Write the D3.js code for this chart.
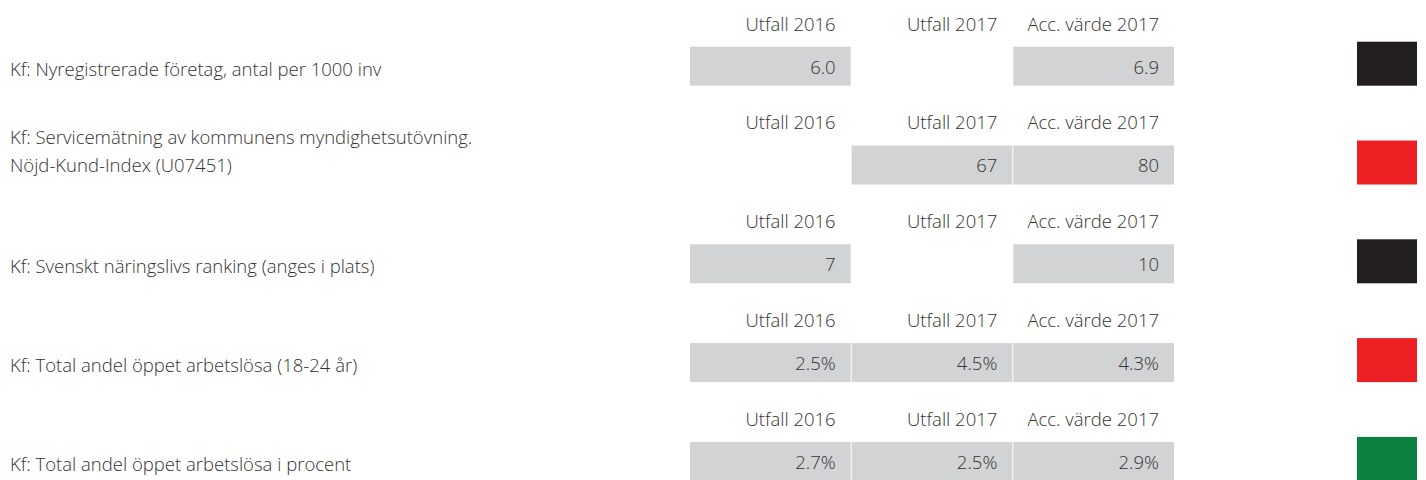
<!DOCTYPE html>
<html>
<head>
	<meta charset="utf-8">
	<script src="https://cdnjs.cloudflare.com/ajax/libs/d3/7.8.5/d3.min.js"></script>
	<style>
		body { margin: 0; background: #fff; }
		text { font-family: "Open Sans", sans-serif; font-weight: 300; fill: #333; }
	</style>
</head>
<body>
	<svg width="1426" height="480"></svg>
	<script>
		//indicator labels (one entry per line)
		let indicators = [
			["Kf: Nyregistrerade företag, antal per 1000 inv"],
			["Kf: Servicemätning av kommunens myndighetsutövning.", "Nöjd-Kund-Index (U07451)"],
			["Kf: Svenskt näringslivs ranking (anges i plats)"],
			["Kf: Total andel öppet arbetslösa (18-24 år)"],
			["Kf: Total andel öppet arbetslösa i procent"]
		];
		let columns = ["Utfall 2016", "Utfall 2017", "Acc. värde 2017"];
		let utfall2016 = ["6.0", null, "7", "2.5%", "2.7%"];
		let utfall2017 = [null, "67", null, "4.5%", "2.5%"];
		let accVarde2017 = ["6.9", "80", "10", "4.3%", "2.9%"];
		let status = ["black", "red", "black", "red", "green"];

		let svg = d3.select("svg");

		//scales
		let x = d3.scaleBand().domain(columns).range([690, 1174]).paddingInner(0.006),
			y = d3.scaleBand().domain(d3.range(indicators.length)).range([-11, 483]),
			z = d3.scaleOrdinal().domain(["black", "red", "green"]).range(["#231f20", "#ed2024", "#0b8140"]);

		let cellTop = 57.7, cellH = 39, fs = 18.5;

		let rows = indicators.map(function(d, i) {
			return {label: d, status: status[i], values: [utfall2016[i], utfall2017[i], accVarde2017[i]]};
		});

		let row = svg.selectAll("g.row")
			.data(rows)
			.enter()
			.append("g")
			.attr("class", "row")
			.attr("transform", function(d, i) { return "translate(0," + y(i) + ")"; });

		//left labels, last line sits on the cell
		row.append("text")
			.attr("x", 10)
			.attr("font-size", fs)
			.selectAll("tspan")
			.data(function(d) { return d.label; })
			.enter()
			.append("tspan")
			.attr("x", 10)
			.attr("y", function(d, i, n) { return cellTop + (n.length > 1 ? 27 : 29) - (n.length - 1 - i) * 28; })
			.text(function(d) { return d; });

		//column headers
		row.selectAll("text.head")
			.data(columns)
			.enter()
			.append("text")
			.attr("class", "head")
			.attr("x", function(d) { return x(d) + x.bandwidth() - 15; })
			.attr("y", cellTop - 16)
			.attr("text-anchor", "end")
			.attr("font-size", fs)
			.text(function(d) { return d; });

		//value cells
		let cell = row.selectAll("g.cell")
			.data(function(d) { return d.values.map(function(v, j) { return {col: columns[j], v: v}; }).filter(function(c) { return c.v !== null; }); })
			.enter()
			.append("g")
			.attr("class", "cell");
		cell.append("rect")
			.attr("x", function(d) { return x(d.col); })
			.attr("y", cellTop)
			.attr("width", x.bandwidth())
			.attr("height", cellH)
			.attr("fill", "#d1d3d4");
		cell.append("text")
			.attr("x", function(d) { return x(d.col) + x.bandwidth() - 15; })
			.attr("y", cellTop + 27)
			.attr("text-anchor", "end")
			.attr("font-size", fs)
			.text(function(d) { return d.v; });

		//status squares
		row.append("rect")
			.attr("x", 1357)
			.attr("y", cellTop + cellH - 44)
			.attr("width", 60)
			.attr("height", 44)
			.attr("fill", function(d) { return z(d.status); });
	</script>
</body>
</html>
